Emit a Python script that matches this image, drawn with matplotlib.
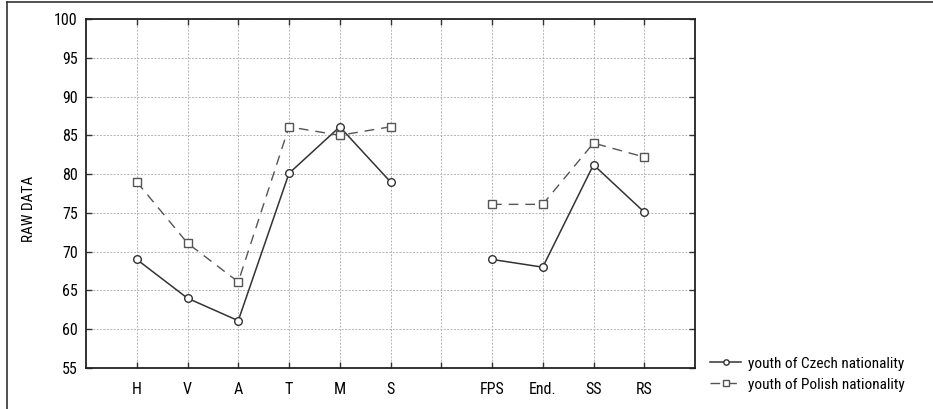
import matplotlib
matplotlib.use("Agg")
import matplotlib.pyplot as plt
from matplotlib import font_manager
from matplotlib.lines import Line2D

# a narrow face is closest to the condensed font of the original
names = {f.name for f in font_manager.fontManager.ttflist}
narrow = [n for n in ["Liberation Sans Narrow", "DejaVu Sans Condensed", "Roboto Condensed",
                      "Open Sans Condensed"] if n in names]
plt.rcParams['font.family'] = narrow + ['DejaVu Sans']
plt.rcParams['font.stretch'] = 'condensed'

categories = ["H", "V", "A", "T", "M", "S", "FPS", "End.", "SS", "RS"]
positions = [1, 2, 3, 4, 5, 6, 8, 9, 10, 11]
czech = [69.0, 64.0, 61.1, 80.1, 86.1, 79.0, 69.0, 68.0, 81.2, 75.1]
polish = [79.0, 71.1, 66.1, 86.1, 85.0, 86.1, 76.1, 76.1, 84.0, 82.2]
yticks = [55, 60, 65, 70, 75, 80, 85, 90, 95, 100]

fig = plt.figure(figsize=(9.33, 4.09), dpi=100)
ax = fig.add_axes([86 / 933, 1 - 368 / 409, 609 / 933, 349 / 409])

# left part and right part are separate segments
for seg in (slice(0, 6), slice(6, 10)):
    ax.plot(positions[seg], czech[seg], color="#333333", lw=1.1, marker="o",
            ms=5.5, mfc="white", mec="#333333", mew=1.0,
            label="youth of Czech nationality" if seg.start == 0 else None)
    ax.plot(positions[seg], polish[seg], color="#555555", lw=1.0, ls=(0, (7, 5)),
            marker="s", ms=5.5, mfc="white", mec="#555555", mew=1.0,
            label="youth of Polish nationality" if seg.start == 0 else None)

ax.set_xlim(0, 12)
ax.set_ylim(55, 100)
ax.set_yticks(yticks)
ax.set_xticks(range(1, 12))
ax.set_xticklabels(["H", "V", "A", "T", "M", "S", "", "FPS", "End.", "SS", "RS"])
ax.grid(True, color="#b5b5b5", ls=(0, (2, 1.5)), lw=0.7)
ax.tick_params(direction="in", top=True, right=True, length=4, width=1,
               labelsize=11.5, color="#333333", pad=6)
ax.tick_params(axis="x", pad=10)
for s in ax.spines.values():
    s.set_linewidth(1.3)
    s.set_color("#222222")
ax.set_ylabel("RAW DATA", fontsize=11)
ax.yaxis.set_label_coords(-0.082, 0.457)

leg = ax.legend(loc="lower left", bbox_to_anchor=(1.015, -0.085), frameon=False,
                fontsize=11, handlelength=2.0, handletextpad=0.5, labelspacing=0.45,
                borderaxespad=0, markerscale=0.7)

# figure frame on top and left
fig.add_artist(Line2D([6.5 / 933, 6.5 / 933], [0, 1 - 2 / 409],
                      transform=fig.transFigure, color="#333333", lw=1.2))
fig.add_artist(Line2D([6.5 / 933, 1], [1 - 2 / 409, 1 - 2 / 409],
                      transform=fig.transFigure, color="#333333", lw=1.2))

fig.savefig("out.png", dpi=100)
